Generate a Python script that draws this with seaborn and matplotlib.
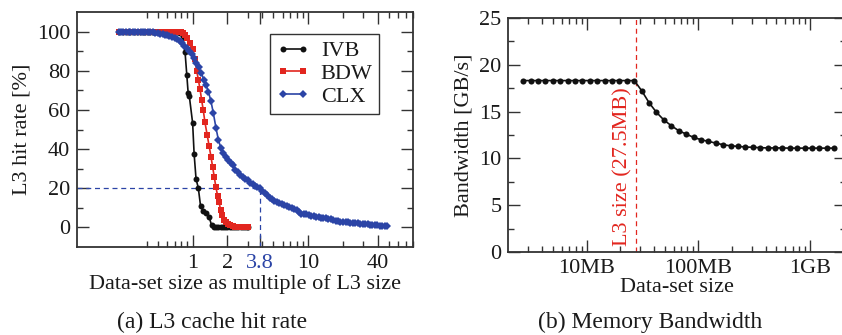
import matplotlib
matplotlib.use("Agg")
import matplotlib.pyplot as plt
import seaborn as sns
from matplotlib.ticker import FixedLocator, NullFormatter

# ---------------- (a) L3 hit rate vs. data-set size (multiple of L3) ----------------
ivb_x = [0.23, 0.25, 0.27, 0.29, 0.31, 0.33, 0.35, 0.37, 0.39, 0.41, 0.43, 0.45, 0.47,
         0.49, 0.51, 0.53, 0.56, 0.58, 0.61, 0.63, 0.66, 0.69, 0.72, 0.75, 0.785,
         0.82, 0.86, 0.89, 0.915, 0.935, 1.0, 1.03, 1.07, 1.12, 1.17, 1.235, 1.30,
         1.39, 1.46, 1.53, 1.60, 1.67, 1.75, 1.83, 1.91, 2.0, 2.09, 2.18, 2.28, 2.38,
         2.49, 2.60, 2.72, 2.84, 2.97, 3.03]
ivb_y = [100, 100, 100, 100, 100, 100, 100, 100, 100, 100, 100, 100, 100,
         100, 100, 100, 100, 100, 100, 100, 100, 100, 99.9, 99.7, 99.3,
         97.5, 89.5, 78.0, 68.5, 67.3, 53.3, 37.6, 24.8, 20.1, 11.1, 8.2, 7.3,
         5.3, 1.0, 0.4, 0.2, 0.1, 0.1, 0.1, 0.1, 0.1, 0.1, 0.1, 0.1, 0.1,
         0.1, 0.1, 0.1, 0.1, 0.1, 0.1]

bdw_x = [0.23, 0.25, 0.27, 0.29, 0.31, 0.33, 0.35, 0.37, 0.39, 0.41, 0.43, 0.45, 0.47,
         0.49, 0.51, 0.53, 0.56, 0.58, 0.61, 0.63, 0.66, 0.69, 0.72, 0.75, 0.79,
         0.83, 0.86, 0.90, 0.95, 1.0, 1.047, 1.085, 1.12, 1.16, 1.195, 1.235, 1.277,
         1.335, 1.39, 1.44, 1.49, 1.54, 1.59, 1.645, 1.69, 1.745, 1.80, 1.87, 1.94,
         2.03, 2.12, 2.22, 2.33, 2.45, 2.58, 2.72, 2.87, 3.03]
bdw_y = [100, 100, 100, 100, 100, 100, 100, 100, 100, 100, 100, 100, 100,
         100, 100, 100, 100, 100, 100, 100, 100, 100, 100, 100, 99.8,
         99.2, 98.5, 96.6, 94.1, 91.0, 86.0, 80.0, 75.4, 70.5, 65.2, 60.0, 53.8,
         47.3, 41.5, 36.2, 30.8, 25.6, 20.5, 16.2, 13.0, 9.0, 6.2, 4.0, 2.6,
         1.6, 1.0, 0.6, 0.3, 0.2, 0.1, 0.1, 0.1, 0.1]

clx_x = [0.23, 0.24, 0.25, 0.265, 0.28, 0.29, 0.305, 0.32, 0.34, 0.355, 0.37, 0.39,
         0.41, 0.43, 0.45, 0.475, 0.5, 0.52, 0.55, 0.575, 0.6, 0.63, 0.665, 0.7,
         0.73, 0.77, 0.81, 0.85, 0.89, 0.93, 0.98, 1.03, 1.08, 1.13, 1.19, 1.25,
         1.31, 1.37, 1.44, 1.51, 1.59, 1.67, 1.75, 1.84, 1.93, 2.03, 2.13, 2.23,
         2.34, 2.46, 2.58, 2.71, 2.85, 2.99, 3.14, 3.3, 3.46, 3.63, 3.81, 4.0,
         4.2, 4.41, 4.63, 4.86, 5.1, 5.36, 5.63, 5.91, 6.2, 6.51, 6.84, 7.18,
         7.54, 7.92, 8.31, 8.73, 9.16, 9.62, 10.1, 10.6, 11.1, 11.7, 12.3, 12.9,
         13.5, 14.2, 14.9, 15.7, 16.5, 17.3, 18.1, 19.0, 20.0, 21.0, 22.0, 23.1,
         24.3, 25.5, 26.8, 28.1, 29.5, 31.0, 32.6, 34.2, 35.9, 37.7, 39.6, 41.6,
         43.7, 45.9, 47.7]
clx_y = [100, 100, 100, 100, 100, 100, 100, 100, 100, 100, 100, 100,
         100, 99.8, 99.7, 99.5, 99.3, 99.0, 98.8, 98.5, 98.2, 97.7, 97.2, 96.6,
         96.0, 95.2, 94.0, 92.8, 91.5, 90.2, 88.4, 86.4, 84.0, 81.7, 78.8, 75.4,
         72.5, 69.2, 64.5, 58.4, 51.0, 44.7, 40.8, 38.0, 35.8, 34.2, 33.0, 32.0,
         29.5, 28.2, 27.0, 25.8, 24.8, 24.0, 22.9, 22.1, 21.4, 20.8, 20.0, 18.8,
         17.6, 16.3, 15.2, 14.3, 13.6, 12.9, 12.4, 12.0, 11.4, 10.8, 10.2, 9.7,
         9.2, 8.9, 7.9, 7.1, 6.9, 6.6, 6.3, 6.0, 5.7, 5.5, 5.3, 5.0,
         4.8, 4.6, 4.4, 4.2, 3.9, 3.4, 3.1, 3.0, 2.9, 2.8, 2.7, 2.5,
         2.3, 2.2, 2.1, 1.9, 1.8, 1.6, 1.5, 1.4, 1.3, 1.2, 1.0, 0.9,
         0.9, 0.9, 0.9]

hit_major = [1, 2, 3.8, 10, 40]
hit_major_labels = ["1", "2", "3.8", "10", "40"]
hit_minor = [0.4, 0.5, 0.6, 0.7, 0.8, 0.9, 3, 4, 5, 6, 7, 8, 9, 20, 30, 50, 60, 70, 80]
marker_x, marker_y = 3.8, 20  # 20 % hit rate reached at 3.8x the L3 size

# ---------------- (b) memory bandwidth vs. data-set size (MB) ----------------
size_mb = [2.71, 3.15, 3.67, 4.28, 4.98, 5.81, 6.76, 7.88, 9.18, 10.69, 12.45, 14.51,
           16.90, 19.69, 22.94, 26.72, 31.12, 36.25, 42.23, 49.19, 57.31, 66.76,
           77.77, 90.60, 105.5, 122.9, 143.2, 166.8, 194.3, 226.4, 263.7, 307.2,
           357.9, 416.9, 485.7, 565.8, 659.1, 767.8, 894.4, 1042, 1213, 1414, 1647]
bandwidth = [18.3, 18.3, 18.3, 18.3, 18.3, 18.3, 18.3, 18.3, 18.3, 18.3, 18.3, 18.3,
             18.3, 18.3, 18.3, 18.3, 17.22, 15.94, 14.91, 14.10, 13.49, 12.96,
             12.60, 12.25, 12.00, 11.82, 11.64, 11.46, 11.35, 11.29, 11.22, 11.19,
             11.15, 11.12, 11.12, 11.12, 11.10, 11.10, 11.10, 11.10, 11.10, 11.10, 11.10]
l3_size_mb = 27.5
bw_major = [10, 100, 1000]
bw_major_labels = ["10MB", "100MB", "1GB"]
bw_minor = [3, 4, 5, 6, 7, 8, 9, 20, 30, 40, 50, 60, 70, 80, 90,
            200, 300, 400, 500, 600, 700, 800, 900, 2000]

BLACK = "#111111"
RED = "#e2261f"
BLUE = "#2b44a6"
FRAME = "#333333"
FS = 16

sns.set_theme(style="ticks")
plt.rcParams["font.family"] = ["Liberation Serif", "DejaVu Serif"]
plt.rcParams.update({
    "font.size": FS,
    "axes.edgecolor": FRAME,
    "axes.linewidth": 1.3,
    "xtick.direction": "in",
    "ytick.direction": "in",
    "xtick.top": True,
    "ytick.right": True,
    "xtick.major.size": 8.5,
    "ytick.major.size": 8.5,
    "xtick.minor.size": 4.5,
    "ytick.minor.size": 4.5,
    "xtick.major.width": 1.0,
    "ytick.major.width": 1.0,
    "xtick.minor.width": 1.0,
    "ytick.minor.width": 1.0,
    "xtick.color": FRAME,
    "ytick.color": FRAME,
    "xtick.labelcolor": "#1a1a1a",
    "ytick.labelcolor": "#1a1a1a",
    "xtick.labelsize": FS,
    "ytick.labelsize": FS,
    "axes.labelsize": FS,
    "axes.labelcolor": "#1a1a1a",
    "text.color": "#1a1a1a",
})

W, H = 842, 335
fig = plt.figure(figsize=(W / 100, H / 100), dpi=100)

# ---- panel (a)
ax1 = fig.add_axes([77 / W, 1 - 247 / H, 336 / W, 235 / H])
ax1.set_xscale("log")
sns.lineplot(x=ivb_x, y=ivb_y, ax=ax1, color=BLACK, marker="o", markersize=4.3,
             markeredgewidth=0, linewidth=1.2, label="IVB", estimator=None, sort=False)
sns.lineplot(x=bdw_x, y=bdw_y, ax=ax1, color=RED, marker="s", markersize=4.0,
             markeredgewidth=0, linewidth=1.2, label="BDW", estimator=None, sort=False)
sns.lineplot(x=clx_x, y=clx_y, ax=ax1, color=BLUE, marker="D", markersize=4.0,
             markeredgewidth=0, linewidth=1.2, label="CLX", estimator=None, sort=False)

ax1.set_xlim(0.1, 80.5)
ax1.set_ylim(-10, 110)
ax1.plot([0.1, marker_x], [marker_y, marker_y], color=BLUE, ls=(0, (4, 3)), lw=0.9, zorder=1)
ax1.plot([marker_x, marker_x], [-10, marker_y], color=BLUE, ls=(0, (4, 3)), lw=0.9, zorder=1)

ax1.xaxis.set_major_locator(FixedLocator(hit_major))
ax1.set_xticklabels(hit_major_labels)
ax1.xaxis.set_minor_locator(FixedLocator(hit_minor))
ax1.xaxis.set_minor_formatter(NullFormatter())
for lab in ax1.get_xticklabels():
    if lab.get_text() == "3.8":
        lab.set_color(BLUE)
ax1.set_yticks([0, 20, 40, 60, 80, 100])
ax1.yaxis.set_minor_locator(FixedLocator([10, 30, 50, 70, 90]))
ax1.tick_params(axis="both", which="major", pad=5)
ax1.set_xlabel("Data-set size as multiple of L3 size", labelpad=1)
ax1.set_ylabel("L3 hit rate [%]", labelpad=4)

leg = ax1.legend(loc="upper right", bbox_to_anchor=(0.9, 0.906), numpoints=2,
                 handlelength=1.5, handletextpad=0.5, labelspacing=0.1,
                 borderpad=0.3, borderaxespad=0, fancybox=False, framealpha=1,
                 edgecolor=FRAME, fontsize=FS)
leg.get_frame().set_linewidth(1.0)

# ---- panel (b)
ax2 = fig.add_axes([508.3 / W, 1 - 252.3 / H, 337.7 / W, 234.6 / H])
ax2.set_xscale("log")
sns.lineplot(x=size_mb, y=bandwidth, ax=ax2, color=BLACK, marker="o", markersize=4.4,
             markeredgewidth=0, linewidth=1.2, estimator=None, sort=False)
ax2.axvline(l3_size_mb, color=RED, ls=(0, (4, 3)), lw=0.9, zorder=1)
ax2.text(21.3, 0.7, "L3 size (27.5MB)", rotation=90, color=RED,
         ha="center", va="bottom", fontsize=FS)

ax2.set_xlim(1.99, 2100)
ax2.set_ylim(0, 25)
ax2.xaxis.set_major_locator(FixedLocator(bw_major))
ax2.set_xticklabels(bw_major_labels)
ax2.xaxis.set_minor_locator(FixedLocator(bw_minor))
ax2.xaxis.set_minor_formatter(NullFormatter())
ax2.set_yticks([0, 5, 10, 15, 20, 25])
ax2.yaxis.set_minor_locator(FixedLocator([2.5, 7.5, 12.5, 17.5, 22.5]))
ax2.tick_params(axis="both", which="major", pad=5)
ax2.set_xlabel("Data-set size", labelpad=0)
ax2.set_ylabel("Bandwidth [GB/s]", labelpad=4)

# ---- sub-captions
fig.text(212 / W, 1 - 322 / H, "(a) L3 cache hit rate", ha="center", va="center", fontsize=17)
fig.text(650 / W, 1 - 322 / H, "(b) Memory Bandwidth", ha="center", va="center", fontsize=17)

fig.savefig("out.png", dpi=100)
